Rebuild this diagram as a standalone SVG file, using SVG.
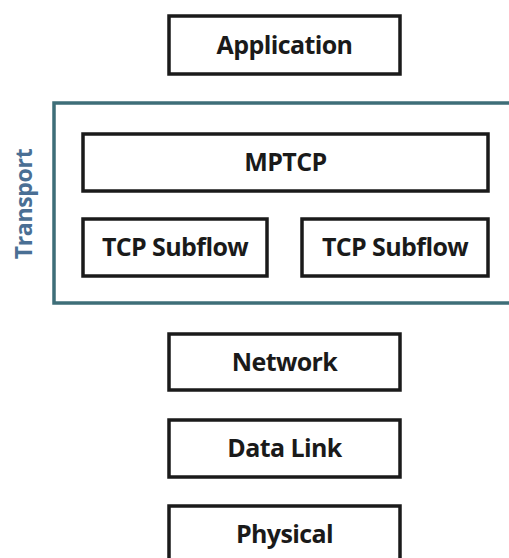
<svg xmlns="http://www.w3.org/2000/svg" width="509" height="558" viewBox="0 0 509 558">
<style>
.box{fill:#ffffff;stroke:#1a1a1a;stroke-width:3.5}
.lbl{font-family:"Open Sans","Liberation Sans",sans-serif;font-weight:bold;font-size:25px;fill:#1a1a1a;text-anchor:middle;dominant-baseline:central;letter-spacing:-0.6px}
.grp{fill:#ffffff;stroke:#3e6e78;stroke-width:3.5}
.glbl{font-family:"Open Sans","Liberation Sans",sans-serif;font-weight:bold;font-size:23px;fill:#4a6f94;text-anchor:middle;dominant-baseline:central;letter-spacing:-0.3px}
</style>
<rect width="509" height="558" fill="#ffffff"/>
<g id="transport">
<rect class="grp" x="54" y="103" width="470" height="200"/>
<text class="glbl" transform="translate(23,204) rotate(-90)">Transport</text>
</g>
<g id="application">
<rect class="box" x="169" y="16" width="231" height="58"/>
<text class="lbl" x="284.5" y="44">Application</text>
</g>
<g id="mptcp">
<rect class="box" x="83" y="134" width="405" height="57"/>
<text class="lbl" x="285.5" y="161">MPTCP</text>
</g>
<g id="subflow1">
<rect class="box" x="83" y="219" width="184" height="57"/>
<text class="lbl" x="175" y="246">TCP Subflow</text>
</g>
<g id="subflow2">
<rect class="box" x="302" y="219" width="186" height="57"/>
<text class="lbl" x="395" y="246">TCP Subflow</text>
</g>
<g id="network">
<rect class="box" x="169" y="334" width="231" height="56"/>
<text class="lbl" x="284.5" y="361">Network</text>
</g>
<g id="datalink">
<rect class="box" x="169" y="420" width="231" height="57"/>
<text class="lbl" x="284.5" y="447">Data Link</text>
</g>
<g id="physical">
<rect class="box" x="169" y="506" width="231" height="60"/>
<text class="lbl" x="284.5" y="533">Physical</text>
</g>
<g id="connectors"></g>
</svg>
